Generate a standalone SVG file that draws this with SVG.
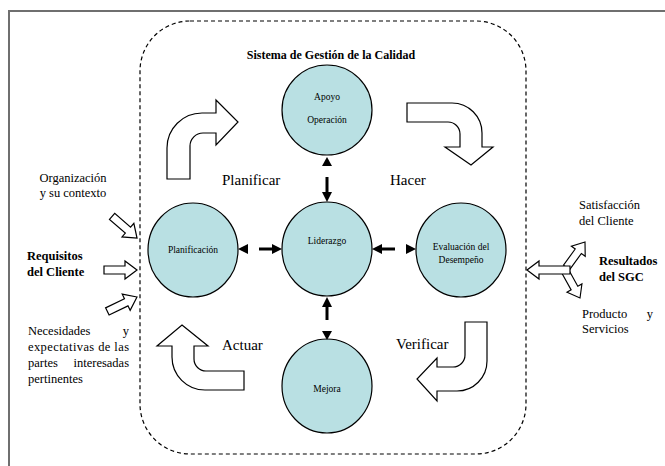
<svg xmlns="http://www.w3.org/2000/svg" width="665" height="466" viewBox="0 0 665 466" font-family="Liberation Serif, Times New Roman, serif">
<style>
.frame{fill:none;stroke:#6f6f6f;stroke-width:2}
.sys{fill:none;stroke:#000;stroke-width:1.2;stroke-dasharray:4 3}
.node{fill:#b9e0e3;stroke:#000;stroke-width:1.2}
.nl{font-size:9.5px;text-anchor:middle}
.t{font-size:12.5px}
.tb{font-size:12.5px;font-weight:bold}
.ph{font-size:15px}
.block{fill:#fff;stroke:#000;stroke-width:1.2;stroke-linejoin:miter}
.line{stroke:#000;stroke-width:3;fill:none}
.head{fill:#000}
</style>
<defs>
<path id="sarrow" d="M0 0 L-12 -9 L-12 -4 L-33 -4 L-33 4 L-12 4 L-12 9 Z"/>
</defs>
<path class="frame" d="M9 466 L9 11 L665 11"/>
<rect id="sistema" class="sys" x="140" y="21" width="386" height="433" rx="50" ry="50"/>
<text class="tb" x="331" y="59" text-anchor="middle" font-family="Liberation Serif" style="font-size:12px">Sistema de Gestión de la Calidad</text>

<g id="apoyo">
<ellipse class="node" cx="327" cy="110" rx="45" ry="45"/>
<text class="nl" x="327" y="100">Apoyo</text>
<text class="nl" x="327" y="123">Operación</text>
</g>
<g id="liderazgo">
<ellipse class="node" cx="327" cy="249" rx="45" ry="47"/>
<text class="nl" x="327" y="244">Liderazgo</text>
</g>
<g id="planificacion">
<ellipse class="node" cx="193" cy="250" rx="45" ry="47"/>
<text class="nl" x="193" y="253">Planificación</text>
</g>
<g id="evaluacion">
<ellipse class="node" cx="461" cy="250" rx="45" ry="47"/>
<text class="nl" x="461" y="250">Evaluación del</text>
<text class="nl" x="461" y="263">Desempeño</text>
</g>
<g id="mejora">
<ellipse class="node" cx="327" cy="386" rx="45" ry="47"/>
<text class="nl" x="327" y="392">Mejora</text>
</g>

<g id="connectors">
<path class="head" d="M327 157 L332 166 L322 166 Z"/>
<line class="line" x1="327" y1="177" x2="327" y2="193"/>
<path class="head" d="M327 202 L322 192 L332 192 Z"/>
<line class="line" x1="259" y1="249" x2="273" y2="249"/>
<path class="head" d="M282 249 L272 244 L272 254 Z"/>
<path class="head" d="M238 249 L248 244 L248 254 Z"/>
<line class="line" x1="395" y1="249" x2="381" y2="249"/>
<path class="head" d="M372 249 L382 244 L382 254 Z"/>
<path class="head" d="M416 249 L406 244 L406 254 Z"/>
<line class="line" x1="327" y1="320" x2="327" y2="306"/>
<path class="head" d="M327 297 L322 307 L332 307 Z"/>
<path class="head" d="M327 340 L322 331 L332 331 Z"/>
</g>

<g id="ciclo">
<path class="block" d="M167 179 L167 148 A35 35 0 0 1 202 113 L216 113 L216 100 L238 122 L216 145 L216 133 L203 133 A13 13 0 0 0 190 146 L190 179 Z"/>
<path class="block" d="M407 103 L452 103 A30 30 0 0 1 482 133 L482 147 L493 147 L471 165 L445 147 L460 147 L460 134 A12 12 0 0 0 448 122 L407 122 Z"/>
<path class="block" d="M182 325 L208 346 L194 346 L194 359 A12 12 0 0 0 206 371 L244 371 L244 390 L205 390 A33 33 0 0 1 172 357 L172 346 L157 346 Z"/>
<path class="block" d="M465 322 L487 322 L487 361 A30 30 0 0 1 457 391 L437 391 L437 401 L417 379 L437 358 L437 367 L453 367 A12 12 0 0 0 465 355 Z"/>
<text class="ph" x="222" y="185">Planificar</text>
<text class="ph" x="390" y="185">Hacer</text>
<text class="ph" x="222" y="350">Actuar</text>
<text class="ph" x="396" y="349">Verificar</text>
</g>

<g id="entradas">
<use href="#sarrow" class="block" transform="translate(137 238) rotate(41)"/>
<use href="#sarrow" class="block" transform="translate(137 270)"/>
<use href="#sarrow" class="block" transform="translate(137 297) rotate(-26)"/>
<text class="t" x="73" y="182" text-anchor="middle">Organización</text>
<text class="t" x="73" y="197" text-anchor="middle">y su contexto</text>
<text class="tb" x="27" y="260">Requisitos</text>
<text class="tb" x="27" y="276">del Cliente</text>
<text class="t" x="28" y="335">Necesidades</text>
<text class="t" x="129" y="335" text-anchor="end">y</text>
<text class="t" x="28" y="351" textLength="101" lengthAdjust="spacing">expectativas de las</text>
<text class="t" x="28" y="367">partes</text>
<text class="t" x="129" y="367" text-anchor="end">interesadas</text>
<text class="t" x="28" y="383">pertinentes</text>
</g>

<g id="salidas">
<use href="#sarrow" class="block" transform="translate(585 242) rotate(-54) scale(0.95)"/>
<use href="#sarrow" class="block" transform="translate(580 298) rotate(61) scale(0.95)"/>
<path class="block" d="M527 270 L539 261 L539 266 L570 266 L570 274 L539 274 L539 279 Z"/>
<text class="t" x="579" y="209">Satisfacción</text>
<text class="t" x="579" y="225">del Cliente</text>
<text class="tb" x="599" y="265">Resultados</text>
<text class="tb" x="599" y="281">del SGC</text>
<text class="t" x="582" y="318">Producto</text>
<text class="t" x="653" y="318" text-anchor="end">y</text>
<text class="t" x="582" y="333">Servicios</text>
</g>
</svg>
